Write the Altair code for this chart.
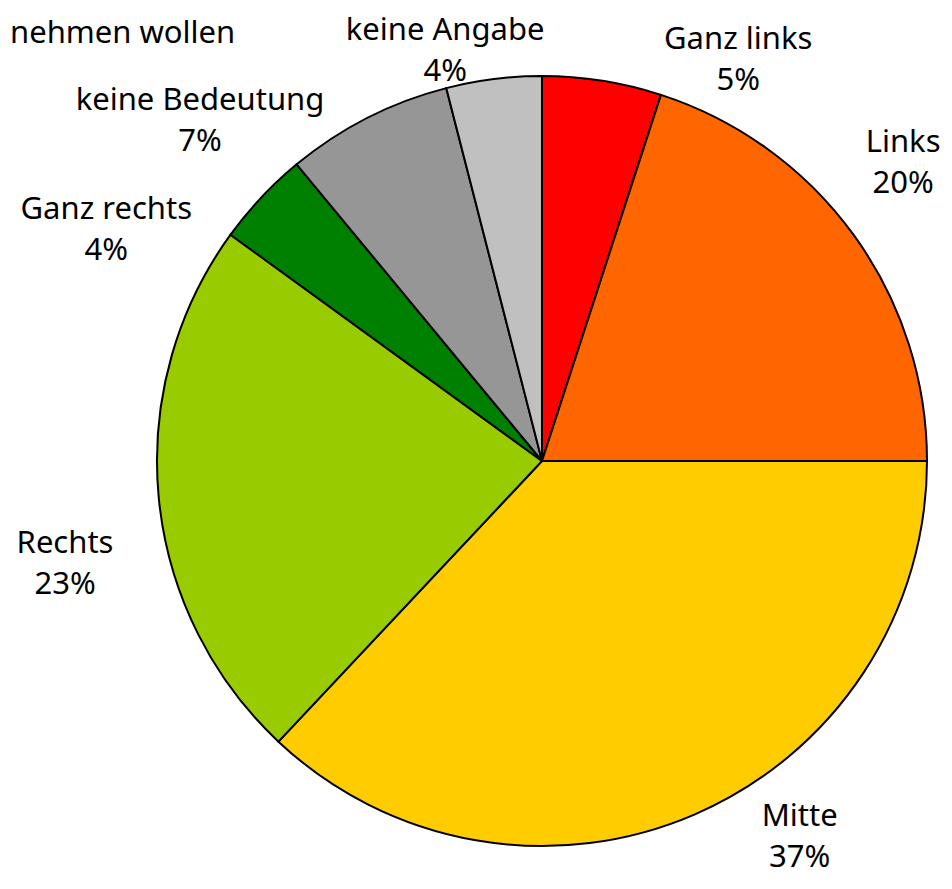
import math
import altair as alt
import pandas as pd

# ---- data ----
categories = ["Ganz links", "Links", "Mitte", "Rechts", "Ganz rechts",
              "keine Bedeutung", "keine Angabe", "nehmen wollen"]
values = [5, 20, 37, 23, 4, 7, 4, 0]
colors = ["#FF0000", "#FF6600", "#FFCC00", "#99CC00", "#008000",
          "#969696", "#C0C0C0", "#FFFFFF"]
show_percent = [True, True, True, True, True, True, True, False]

# ---- layout (label placement like the original "best fit") ----
label_nudge_deg = [17.1, -3.5, -11.0, -6.8, -15.3, -18.2, -6.1, -45.9]
label_dist = [446, 468, 456, 488, 493, 482, 421, 584]
CX, CY, R = 534, 453, 385
LINE_H = 41

total = sum(values)
rows = []
cum = 0.0
for i, (c, v) in enumerate(zip(categories, values)):
    mid = (cum + v / 2) / total * 360.0
    cum += v
    rows.append({
        "cat": c,
        "val": v,
        "order": i,
        "label": f"{c}\n{v}%" if show_percent[i] else c,
        "ang": math.radians(mid + label_nudge_deg[i]),
        "dist": label_dist[i],
    })
df = pd.DataFrame(rows)

color_scale = alt.Scale(domain=categories, range=colors)

arcs = alt.Chart(df).transform_filter("datum.val > 0").mark_arc(
    stroke="black", strokeWidth=2
).encode(
    theta=alt.Theta("val:Q", stack=True),
    order=alt.Order("order:Q"),
    color=alt.Color("cat:N", scale=color_scale, legend=None),
    radius=alt.value(R),
    x=alt.value(CX),
    y=alt.value(CY),
)

labels = alt.Chart(df).mark_text(
    font="Noto Sans", fontSize=31, lineBreak="\n", lineHeight=LINE_H,
    align="center", baseline="middle", color="black", dy=-LINE_H / 2
).encode(
    theta=alt.Theta("ang:Q", scale=None, stack=None),
    radius=alt.Radius("dist:Q", scale=None),
    text="label:N",
    x=alt.value(CX),
    y=alt.value(CY),
)

chart = alt.layer(arcs, labels).properties(
    width=936, height=873, padding=0,
    autosize=alt.AutoSizeParams(type="none")
).configure_view(stroke=None)

chart.save("out.html", embed_options={"renderer": "svg", "actions": False})
